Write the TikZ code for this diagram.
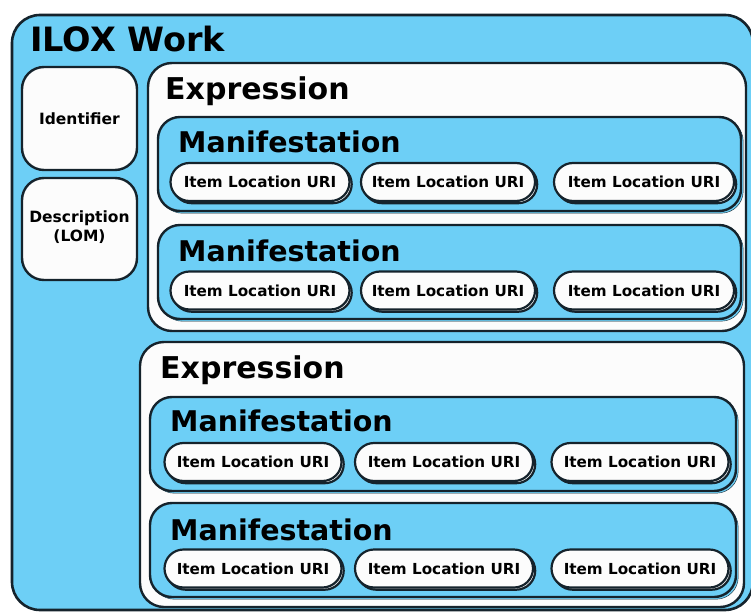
\documentclass[tikz,border=0pt]{standalone}
\usepackage{fontspec}
\setmainfont{DejaVu Sans}
\usetikzlibrary{shadows}
\definecolor{skyfill}{HTML}{6DCFF6}
\definecolor{inkline}{HTML}{15232C}
\definecolor{paper}{HTML}{FCFCFC}
\begin{document}
\begin{tikzpicture}[x=1pt,y=-1pt,
  line join=round,
  outerbox/.style={draw=inkline,line width=2.6pt,fill=skyfill,rounded corners=28pt},
  whitebox/.style={draw=inkline,line width=2.4pt,fill=paper,rounded corners=24pt},
  manbox/.style={draw=inkline,line width=2.4pt,fill=skyfill,rounded corners=22pt,
     copy shadow={shadow xshift=2.2pt,shadow yshift=-2.2pt}},
  pill/.style={draw=inkline,line width=2.2pt,fill=paper,rounded corners=19pt,
     minimum height=38pt,inner sep=0pt,font=\bfseries\fontsize{15.2}{18}\selectfont,
     copy shadow={shadow xshift=2.2pt,shadow yshift=-2.2pt}},
  sidetext/.style={font=\bfseries\fontsize{15.5}{18.5}\selectfont,align=center,inner sep=0pt},
  worktitle/.style={anchor=base west,inner sep=0pt,font=\bfseries\fontsize{33.5}{38}\selectfont},
  exptitle/.style={anchor=base west,inner sep=0pt,font=\bfseries\fontsize{30}{34}\selectfont},
  mantitle/.style={anchor=base west,inner sep=0pt,font=\bfseries\fontsize{28.5}{32}\selectfont,text=black},
]
\useasboundingbox (0,0) rectangle (751,612);
\fill[white] (0,0) rectangle (751,612);
\begin{scope}
\clip (0,0) rectangle (751,612);
% outer ILOX Work box
\draw[outerbox] (12,15) rectangle (753,610);
\node[worktitle] (work) at (30,52) {ILOX Work};
% side boxes
\draw[whitebox,rounded corners=22pt] (22,67) rectangle (137,170);
\node[sidetext] (ident) at (79.5,119) {Identifier};
\draw[whitebox,rounded corners=22pt] (22,178) rectangle (137,280);
\node[sidetext] (desc) at (79.5,227) {Description\\(LOM)};
% Expression 1
\draw[whitebox] (148,63) rectangle (746,331);
\node[exptitle] (exp1) at (165,100) {Expression};
\draw[manbox] (158,117) rectangle (741,211);
\node[mantitle] (man1) at (178,153) {Manifestation};
\node[pill,minimum width=179pt] (p11) at (260,182) {Item Location URI};
\node[pill,minimum width=174pt] (p12) at (448,182) {Item Location URI};
\node[pill,minimum width=180pt] (p13) at (644,182) {Item Location URI};
\draw[manbox] (158,225) rectangle (741,319);
\node[mantitle] (man2) at (178,261) {Manifestation};
\node[pill,minimum width=179pt] (p21) at (260,290.5) {Item Location URI};
\node[pill,minimum width=174pt] (p22) at (448,290.5) {Item Location URI};
\node[pill,minimum width=180pt] (p23) at (644,290.5) {Item Location URI};
% Expression 2
\draw[whitebox] (140,342) rectangle (744,607);
\node[exptitle] (exp2) at (160,378) {Expression};
\draw[manbox] (150,397) rectangle (736,491);
\node[mantitle] (man3) at (170,431) {Manifestation};
\node[pill,minimum width=177pt] (p31) at (253,462) {Item Location URI};
\node[pill,minimum width=178pt] (p32) at (444,462) {Item Location URI};
\node[pill,minimum width=177pt] (p33) at (640,462) {Item Location URI};
\draw[manbox] (150,503) rectangle (736,597);
\node[mantitle] (man4) at (170,540) {Manifestation};
\node[pill,minimum width=177pt] (p41) at (253,568.5) {Item Location URI};
\node[pill,minimum width=178pt] (p42) at (444,568.5) {Item Location URI};
\node[pill,minimum width=177pt] (p43) at (640,568.5) {Item Location URI};
\end{scope}
\end{tikzpicture}
\end{document}
